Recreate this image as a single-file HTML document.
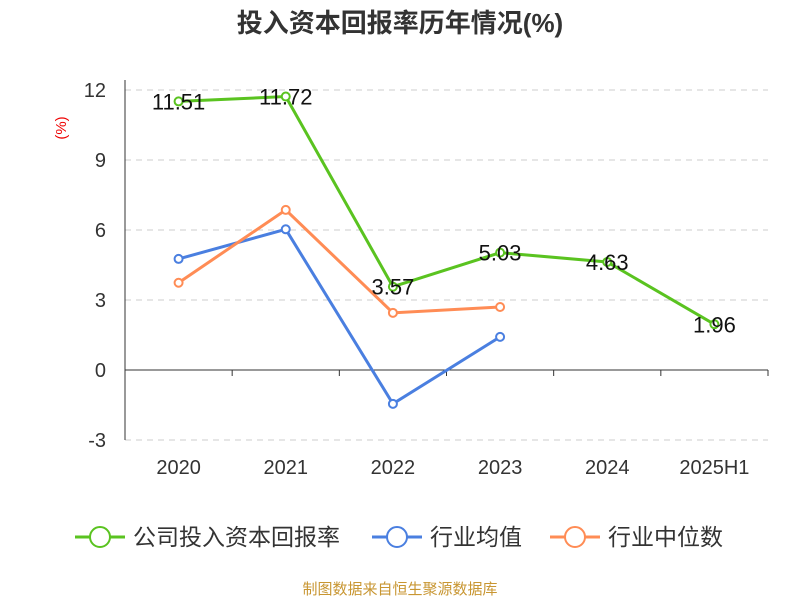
<!DOCTYPE html>
<html><head><meta charset="utf-8"><style>
body{margin:0;background:#fff;}
svg text{font-family:"Liberation Sans","Noto Sans CJK SC",sans-serif;}
</style></head><body>
<svg width="800" height="600" viewBox="0 0 800 600">
<text x="400" y="32" text-anchor="middle" font-size="26" font-weight="bold" fill="#333">投入资本回报率历年情况(%)</text>
<text x="66" y="128" text-anchor="middle" font-size="15" fill="#e00" transform="rotate(-90 66 128)">(%)</text>
<g id="grid"></g><g id="axes"></g><g id="series"></g>
<g id="legend"></g>
<text x="400" y="594" text-anchor="middle" font-size="15" fill="#c89632">制图数据来自恒生聚源数据库</text>
</svg>
<script>
const categories=["2020","2021","2022","2023","2024","2025H1"];
const company=[11.51,11.72,3.57,5.03,4.63,1.96];
const industryAvg=[4.76,6.03,-1.45,1.42];
const industryMedian=[3.74,6.86,2.45,2.7];
const yTicks=[-3,0,3,6,9,12];
const NS="http://www.w3.org/2000/svg";
const x0=125,x1=768,bw=(x1-x0)/categories.length;
const xs=i=>x0+bw*(i+0.5);
const ys=v=>370-v*(280/12);
function mk(tag,attrs,parent,txt){const e=document.createElementNS(NS,tag);for(const k in attrs)e.setAttribute(k,attrs[k]);if(txt!==undefined)e.textContent=txt;parent.appendChild(e);return e;}
const grid=document.getElementById('grid'),axes=document.getElementById('axes'),ser=document.getElementById('series'),leg=document.getElementById('legend');
yTicks.forEach(t=>{
 if(t!==0){const l=mk('line',{x1:x0,x2:x1,y1:ys(t),y2:ys(t),stroke:'#ccc','stroke-dasharray':'6,5'},grid);
 
 }
 const tx=mk('text',{x:106,y:ys(t)+7,'text-anchor':'end','font-size':20,fill:'#333'},axes,String(t));
 
 
});
const ya=mk('line',{x1:x0,x2:x0,y1:ys(12)-10,y2:ys(-3),stroke:'#333'},axes);


const xa=mk('line',{x1:x0,x2:x1,y1:ys(0),y2:ys(0),stroke:'#333'},axes);


for(let i=0;i<=categories.length;i++){mk('line',{x1:x0+bw*i,x2:x0+bw*i,y1:ys(0),y2:ys(0)+6,stroke:'#333'},axes);}
categories.forEach((c,i)=>{const t=mk('text',{x:xs(i),y:474,'text-anchor':'middle','font-size':20,fill:'#333'},axes,c);
 
 });
function series(vals,color,name,labels){
 const g=mk('g',{},ser);
 
 
 mk('polyline',{points:vals.map((v,i)=>xs(i)+','+ys(v)).join(' '),fill:'none',stroke:color,'stroke-width':3},g);
 vals.forEach((v,i)=>{const c=mk('circle',{cx:xs(i),cy:ys(v),r:4,fill:'#fff',stroke:color,'stroke-width':2},g);
  
  
  if(labels){const t=mk('text',{x:xs(i),y:ys(v)+8,'text-anchor':'middle','font-size':22,fill:'#111'},g,v.toFixed(2));
   
   }
 });
}
series(industryAvg,'#4a7fe0','industry-average',false);
series(industryMedian,'#ff8c55','industry-median',false);
series(company,'#5ac320','company-roic',true);
const items=[['公司投入资本回报率','#5ac320',75],['行业均值','#4a7fe0',372],['行业中位数','#ff8c55',550]];
items.forEach(([n,c,x])=>{const g=mk('g',{},leg);
 
 
 mk('line',{x1:x,x2:x+50,y1:537,y2:537,stroke:c,'stroke-width':3},g);
 mk('circle',{cx:x+25,cy:537,r:10,fill:'#fff',stroke:c,'stroke-width':2},g);
 mk('text',{x:x+58,y:545,'font-size':23,fill:'#333'},g,n);});
</script>
</body></html>
